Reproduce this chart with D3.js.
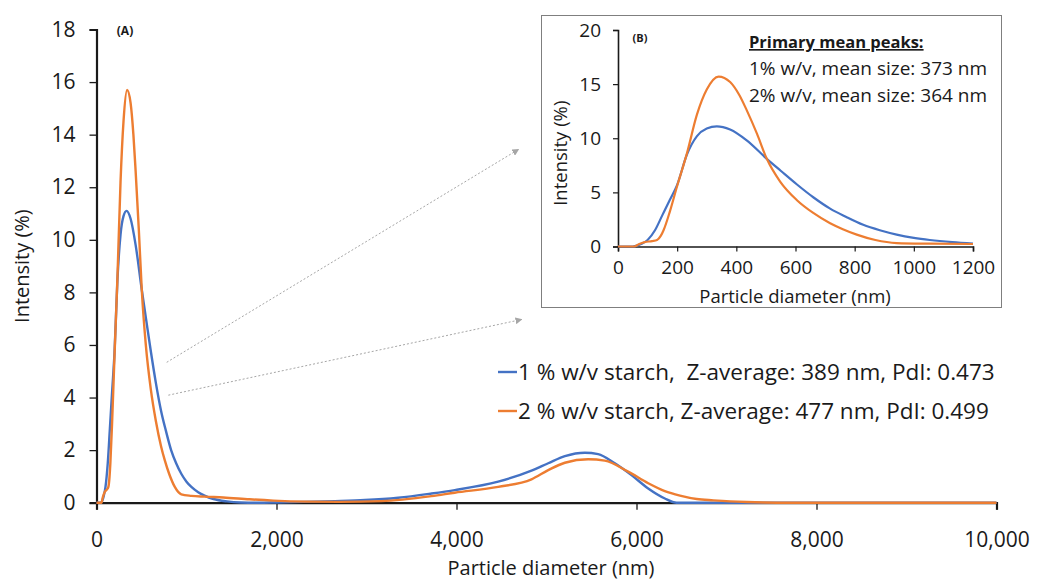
<!DOCTYPE html>
<html>
<head>
<meta charset="utf-8">
<script src="https://cdn.jsdelivr.net/npm/d3@7"></script>
<style>
  body { margin: 0; background: #fff; }
  text { font-family: "Open Sans", "Noto Sans", sans-serif; fill: #1a1a1a; }
</style>
</head>
<body>
<svg id="chart"></svg>
<script>
const width = 1037;
const height = 580;

// particle diameter (nm) and intensity (%)
const blueSize = [0, 50, 65, 80, 100, 125, 150, 175, 200, 233, 267, 300, 334, 379, 435, 503, 550, 604, 660, 717, 770, 829, 885, 942, 1000, 1054, 1130, 1200, 1300, 1450, 1600, 1800, 2000, 2300, 2650, 2983, 3352, 3722, 3981, 4463, 4833, 5019, 5204, 5426, 5574, 5759, 5944, 6130, 6315, 6446, 7000, 10000];
const blueIntensity = [0, 0, 0.08, 0.25, 0.6, 1.5, 2.9, 4.3, 5.7, 8.5, 10.2, 10.9, 11.1, 10.8, 9.8, 8.1, 7.0, 5.75, 4.55, 3.5, 2.75, 2.0, 1.5, 1.1, 0.8, 0.6, 0.4, 0.27, 0.14, 0.05, 0.01, 0, 0.01, 0.03, 0.06, 0.1, 0.19, 0.35, 0.48, 0.8, 1.22, 1.5, 1.77, 1.9, 1.85, 1.5, 1.05, 0.54, 0.16, 0, 0, 0];

const orangeSize = [0, 55, 70, 90, 115, 132, 145, 154, 175, 199, 233, 267, 300, 340, 379, 410, 435, 470, 503, 548, 604, 660, 717, 760, 807, 870, 942, 1054, 1200, 1409, 1700, 1965, 2335, 2700, 3167, 3722, 3981, 4463, 4833, 5019, 5204, 5463, 5648, 5907, 6130, 6315, 6483, 6669, 6854, 7040, 7225, 7410, 7700, 10000];
const orangeIntensity = [0, 0, 0.2, 0.4, 0.5, 0.6, 1.0, 1.5, 3.2, 5.5, 8.6, 12.2, 14.5, 15.7, 15.2, 14.0, 12.6, 10.4, 8.1, 6.0, 4.3, 3.1, 2.15, 1.6, 1.1, 0.6, 0.32, 0.26, 0.23, 0.2, 0.13, 0.08, 0.04, 0.03, 0.06, 0.25, 0.38, 0.6, 0.89, 1.24, 1.52, 1.65, 1.6, 1.18, 0.74, 0.44, 0.27, 0.14, 0.09, 0.05, 0.025, 0.01, 0, 0];

const seriesNames = [
    '1 % w/v starch,  Z-average: 389 nm, PdI: 0.473',
    '2 % w/v starch, Z-average: 477 nm, PdI: 0.499'
];
const seriesColors = ['#4472C4', '#ED7D31'];

const mainXTicks = [0, 2000, 4000, 6000, 8000, 10000];
const mainYTicks = [0, 2, 4, 6, 8, 10, 12, 14, 16, 18];
const insetXTicks = [0, 200, 400, 600, 800, 1000, 1200];
const insetYTicks = [0, 5, 10, 15, 20];

const peakTitle = 'Primary mean peaks:';
const peakLines = ['1% w/v, mean size: 373 nm', '2% w/v, mean size: 364 nm'];

const series = [
    blueSize.map((s, i) => ({ x: s, y: blueIntensity[i] })),
    orangeSize.map((s, i) => ({ x: s, y: orangeIntensity[i] }))
];

const svg = d3.select('#chart')
    .attr('width', width)
    .attr('height', height);

// ---- main chart (A)
const m = { left: 96.5, right: 996.5, top: 29.5, bottom: 502.7 };

const x = d3.scaleLinear().domain([0, 10000]).range([m.left, m.right]);
const y = d3.scaleLinear().domain([0, 18]).range([m.bottom, m.top]);

const line = d3.line()
    .x(d => x(d.x))
    .y(d => y(d.y))
    .curve(d3.curveMonotoneX);

// dotted pointers towards the inset
svg.append('defs').append('marker')
    .attr('id', 'head')
    .attr('viewBox', '0 0 10 10')
    .attr('refX', 9).attr('refY', 5)
    .attr('markerWidth', 7).attr('markerHeight', 7)
    .attr('orient', 'auto')
    .append('path')
    .attr('d', 'M0,0L10,5L0,10Z')
    .attr('fill', '#a6a6a6');

const pointers = [
    [[780, 5.34], [4690, 13.44]],
    [[798, 4.09], [4725, 6.97]]
];
svg.selectAll('.pointer')
    .data(pointers)
    .enter()
    .append('line')
    .attr('class', 'pointer')
    .attr('x1', d => x(d[0][0])).attr('y1', d => y(d[0][1]))
    .attr('x2', d => x(d[1][0])).attr('y2', d => y(d[1][1]))
    .attr('stroke', '#a6a6a6')
    .attr('stroke-width', 1)
    .attr('stroke-dasharray', '2,2')
    .attr('marker-end', 'url(#head)');

const xAxis = svg.append('g')
    .attr('transform', `translate(0,${m.bottom})`)
    .call(d3.axisBottom(x).tickValues(mainXTicks).tickFormat(d3.format(',')).tickSize(7).tickPadding(22));
xAxis.select('.domain').attr('stroke', '#1a1a1a').attr('stroke-width', 2.2);
xAxis.selectAll('.tick line').attr('stroke', '#1a1a1a').attr('stroke-width', 1.3);
xAxis.selectAll('text').style('font-size', '21px').attr('fill', '#1a1a1a')
    .style('font-family', '"Open Sans", sans-serif');

const yAxis = svg.append('g')
    .attr('transform', `translate(${m.left},0)`)
    .call(d3.axisLeft(y).tickValues(mainYTicks).tickSize(7).tickPadding(14));
yAxis.select('.domain').attr('stroke', '#1a1a1a').attr('stroke-width', 2.2);
yAxis.selectAll('.tick line').attr('stroke', '#1a1a1a').attr('stroke-width', 1.3);
yAxis.selectAll('text').style('font-size', '21px').attr('fill', '#1a1a1a')
    .style('font-family', '"Open Sans", sans-serif');

svg.selectAll('.main-line')
    .data(series)
    .enter()
    .append('path')
    .attr('class', 'main-line')
    .attr('d', line)
    .attr('fill', 'none')
    .attr('stroke', (d, i) => seriesColors[i])
    .attr('stroke-width', 2.4)
    .attr('stroke-linejoin', 'round');

svg.append('text')
    .attr('x', 125).attr('y', 35)
    .attr('text-anchor', 'middle')
    .style('font-size', '12px').style('font-weight', 'bold')
    .text('(A)');

svg.append('text')
    .attr('transform', `translate(29,${(m.top + m.bottom) / 2}) rotate(-90)`)
    .attr('text-anchor', 'middle')
    .style('font-size', '20px')
    .text('Intensity (%)');

svg.append('text')
    .attr('x', 551).attr('y', 575)
    .attr('text-anchor', 'middle')
    .style('font-size', '20px')
    .text('Particle diameter (nm)');

// legend
const legend = svg.append('g');
seriesNames.forEach((name, i) => {
    const ly = 372 + i * 39;
    legend.append('line')
        .attr('x1', 498).attr('x2', 517)
        .attr('y1', ly).attr('y2', ly)
        .attr('stroke', seriesColors[i])
        .attr('stroke-width', 2.4);
    legend.append('text')
        .attr('x', 518).attr('y', ly + 8)
        .style('font-size', '22.5px')
        .style('white-space', 'pre')
        .text(name);
});

// ---- inset chart (B)
const inset = svg.append('g');
inset.append('rect')
    .attr('x', 541.5).attr('y', 15.5)
    .attr('width', 460).attr('height', 292)
    .attr('fill', '#fff')
    .attr('stroke', '#7f7f7f')
    .attr('stroke-width', 1);

const n = { left: 618, right: 973, top: 30, bottom: 246.5 };
const ix = d3.scaleLinear().domain([0, 1200]).range([n.left, n.right]);
const iy = d3.scaleLinear().domain([0, 20]).range([n.bottom, n.top]);

const insetLine = d3.line()
    .x(d => ix(d.x))
    .y(d => iy(d.y))
    .curve(d3.curveMonotoneX);

const ixAxis = inset.append('g')
    .attr('transform', `translate(0,${n.bottom})`)
    .call(d3.axisBottom(ix).tickValues(insetXTicks).tickFormat(d3.format('d')).tickSize(5).tickPadding(9));
const iyAxis = inset.append('g')
    .attr('transform', `translate(${n.left},0)`)
    .call(d3.axisLeft(iy).tickValues(insetYTicks).tickSize(5).tickPadding(12));
[ixAxis, iyAxis].forEach(a => {
    a.select('.domain').attr('stroke', '#1a1a1a').attr('stroke-width', 1.6);
    a.selectAll('.tick line').attr('stroke', '#1a1a1a').attr('stroke-width', 1.2);
    a.selectAll('text').style('font-size', '19px').attr('fill', '#1a1a1a')
        .style('font-family', '"Open Sans", sans-serif');
});

inset.selectAll('.inset-line')
    .data(series.map(s => s.filter(d => d.x <= 1200)))
    .enter()
    .append('path')
    .attr('class', 'inset-line')
    .attr('d', insetLine)
    .attr('fill', 'none')
    .attr('stroke', (d, i) => seriesColors[i])
    .attr('stroke-width', 2.2)
    .attr('stroke-linejoin', 'round');

inset.append('text')
    .attr('x', 640).attr('y', 42)
    .attr('text-anchor', 'middle')
    .style('font-size', '11px').style('font-weight', 'bold')
    .text('(B)');

inset.append('text')
    .attr('transform', `translate(567,${(n.top + n.bottom) / 2 + 15}) rotate(-90)`)
    .attr('text-anchor', 'middle')
    .style('font-size', '18.5px')
    .text('Intensity (%)');

inset.append('text')
    .attr('x', 795).attr('y', 303)
    .attr('text-anchor', 'middle')
    .style('font-size', '18.5px')
    .text('Particle diameter (nm)');

inset.append('text')
    .attr('x', 749).attr('y', 48)
    .style('font-size', '16.5px').style('font-weight', 'bold')
    .style('text-decoration', 'underline')
    .text(peakTitle);

peakLines.forEach((t, i) => {
    inset.append('text')
        .attr('x', 749).attr('y', 75 + i * 26.5)
        .style('font-size', '19px')
        .text(t);
});
</script>
</body>
</html>
